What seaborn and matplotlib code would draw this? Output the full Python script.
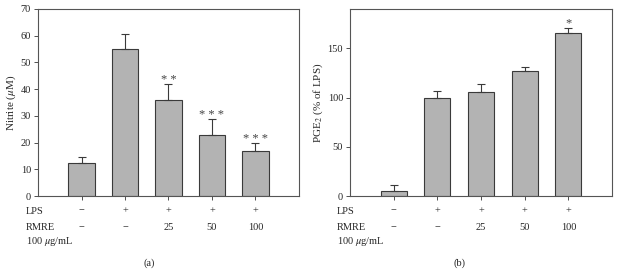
import matplotlib
matplotlib.use("Agg")
import matplotlib.pyplot as plt
import seaborn as sns
import pandas as pd
import numpy as np

# Data
groups = ["ctrl", "lps", "r25", "r50", "r100"]
lps_row = ["\u2212", "+", "+", "+", "+"]
rmre_row = ["\u2212", "\u2212", "25", "50", "100"]

nitrite_mean = [12.5, 55.0, 36.0, 23.0, 17.0]
nitrite_err = [2.0, 5.5, 5.8, 5.7, 2.7]
nitrite_sig = ["", "", "* *", "* * *", "* * *"]

pge2_mean = [5.0, 100.0, 106.0, 127.0, 166.0]
pge2_err = [6.0, 7.0, 8.0, 4.5, 5.0]
pge2_sig = ["", "", "", "", "*"]

sns.set_style("ticks")
plt.rcParams["font.family"] = ["Liberation Serif", "DejaVu Serif"]
plt.rcParams["mathtext.fontset"] = "stix"

BAR = "#b3b3b3"
EDGE = "#3a3a3a"
FS = 7.5

fig = plt.figure(figsize=(6.19, 2.72), dpi=100)
ax_a = fig.add_axes([0.0614, 0.2794, 0.4216, 0.6876])
ax_b = fig.add_axes([0.5654, 0.2794, 0.4233, 0.6876])


def draw_panel(ax, mean, err, sig, ylim, yticks, ylabel):
    df = pd.DataFrame({"group": groups, "value": mean})
    sns.barplot(data=df, x="group", y="value", order=groups, color=BAR,
                edgecolor=EDGE, linewidth=0.8, width=0.6, saturation=1,
                errorbar=None, ax=ax)
    x = np.arange(len(groups))
    ax.errorbar(x, mean, yerr=[np.zeros(len(err)), err], fmt="none",
                ecolor=EDGE, elinewidth=0.8, capsize=3, capthick=0.8)
    for xi, m, e, s in zip(x, mean, err, sig):
        if s:
            ax.annotate(s, (xi, m + e), xytext=(0, -1), textcoords="offset points",
                        ha="center", va="bottom", fontsize=9, color="#444444")
    ax.set_xlim(-1, 5)
    ax.set_ylim(*ylim)
    ax.set_yticks(yticks)
    ax.set_xticks(x)
    ax.set_xticklabels([])
    ax.set_xlabel("")
    ax.set_ylabel(ylabel, fontsize=8, labelpad=2)
    ax.tick_params(axis="both", direction="out", length=3, width=0.6,
                   labelsize=FS, color="#333333", pad=2)
    for sp in ax.spines.values():
        sp.set_visible(True)
        sp.set_linewidth(0.8)
        sp.set_color("#555555")
    tr = ax.get_xaxis_transform()
    for xi, l, r in zip(x, lps_row, rmre_row):
        ax.text(xi, -0.08, l, transform=tr, ha="center", va="center", fontsize=FS)
        ax.text(xi, -0.166, r, transform=tr, ha="center", va="center", fontsize=FS)


draw_panel(ax_a, nitrite_mean, nitrite_err, nitrite_sig, (0, 70),
           range(0, 71, 10), r"Nitrite ($\mu$M)")
draw_panel(ax_b, pge2_mean, pge2_err, pge2_sig, (0, 190),
           [0, 50, 100, 150], r"PGE$_2$ (% of LPS)")

for x0, tag, xc in [(26, "(a)", 149), (337, "(b)", 460)]:
    fig.text(x0 / 619, 1 - 211 / 272, "LPS", ha="left", va="center", fontsize=FS)
    fig.text(x0 / 619, 1 - 227 / 272, "RMRE", ha="left", va="center", fontsize=FS)
    fig.text(x0 / 619, 1 - 242 / 272, r"100 $\mu$g/mL", ha="left", va="center", fontsize=FS)
    fig.text(xc / 619, 1 - 263 / 272, tag, ha="center", va="center", fontsize=FS)

fig.savefig("out.png", dpi=100)
